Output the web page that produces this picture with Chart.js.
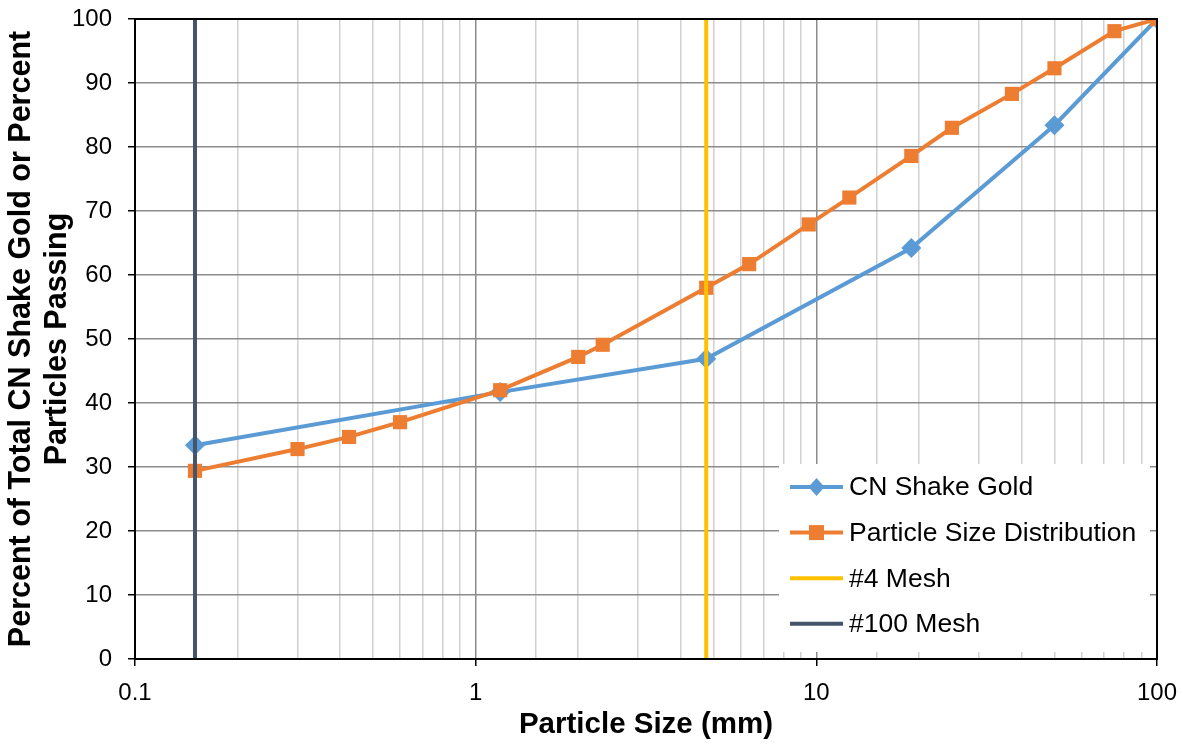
<!DOCTYPE html>
<html>
<head>
<meta charset="utf-8">
<script src="https://cdn.jsdelivr.net/npm/chart.js@4"></script>
<style>
html,body{margin:0;padding:0;background:#fff;}
#wrap{width:1183px;height:745px;position:relative;}
</style>
</head>
<body>
<div id="wrap"><canvas id="c"></canvas></div>
<script>
// ---- data ----
const cnSize = [0.15, 1.18, 4.75, 19, 50, 100];
const cnPct = [33.4, 41.7, 46.9, 64.2, 83.4, 100];
const psdSize = [0.15, 0.3, 0.425, 0.6, 1.18, 2.0, 2.36, 4.75, 6.35, 9.5, 12.5, 19, 25, 37.5, 50, 75, 100];
const psdPct = [29.4, 32.8, 34.7, 37.0, 42.0, 47.2, 49.1, 58.0, 61.7, 67.9, 72.1, 78.6, 83.0, 88.3, 92.3, 98.1, 100];
const mesh4Size = [4.75, 4.75];
const mesh100Size = [0.15, 0.15];
const meshPct = [0, 100];
const seriesNames = ['CN Shake Gold', 'Particle Size Distribution', '#4 Mesh', '#100 Mesh'];
const xTickLabels = ['0.1', '1', '10', '100'];
const yTicks = [0, 10, 20, 30, 40, 50, 60, 70, 80, 90, 100];
const xTitle = 'Particle Size (mm)';
const yTitle = ['Percent of Total CN Shake Gold or Percent', 'Particles Passing'];

const pts = (xs, ys) => xs.map((x, i) => ({x: x, y: ys[i]}));
const FONT = "'Liberation Sans', Arial, sans-serif";
const isMajor = v => Math.abs(Math.log10(v) - Math.round(Math.log10(v))) < 1e-6;

const legendPlugin = {
  id: 'customLegend',
  afterDraw(chart) {
    const ctx = chart.ctx;
    ctx.save();
    ctx.fillStyle = '#fff';
    ctx.fillRect(779, 464, 371, 188);
    chart.data.datasets.forEach((ds, i) => {
      const y = 487 + i * 45.6;
      ctx.strokeStyle = ds.borderColor;
      ctx.lineWidth = 4;
      ctx.beginPath();
      ctx.moveTo(790, y); ctx.lineTo(843, y);
      ctx.stroke();
      ctx.fillStyle = ds.backgroundColor;
      if (ds.pointStyle === 'rectRot') {
        ctx.beginPath();
        ctx.moveTo(816.5, y - 9); ctx.lineTo(824.5, y); ctx.lineTo(816.5, y + 9); ctx.lineTo(808.5, y);
        ctx.closePath(); ctx.fill();
      } else if (ds.pointStyle === 'rect') {
        ctx.fillRect(809, y - 7.5, 15, 15);
      }
      ctx.fillStyle = '#000';
      ctx.font = '26.5px ' + FONT;
      ctx.textBaseline = 'middle';
      ctx.textAlign = 'left';
      ctx.fillText(ds.label, 849, y + 1);
    });
    ctx.restore();
  }
};

const framePlugin = {
  id: 'frame',
  afterDatasetsDraw(chart) {
    const a = chart.chartArea, ctx = chart.ctx;
    ctx.save();
    ctx.strokeStyle = '#000';
    ctx.lineWidth = 2;
    ctx.strokeRect(a.left, a.top, a.right - a.left, a.bottom - a.top);
    ctx.restore();
  }
};

new Chart(document.getElementById('c'), {
  type: 'line',
  data: {
    datasets: [
      {label: seriesNames[0], data: pts(cnSize, cnPct), borderColor: '#5B9BD5', backgroundColor: '#5B9BD5',
       borderWidth: 4, pointStyle: 'rectRot', pointRadius: 10, pointBorderWidth: 0, order: 3},
      {label: seriesNames[1], data: pts(psdSize, psdPct), borderColor: '#ED7D31', backgroundColor: '#ED7D31',
       borderWidth: 4, pointStyle: 'rect', pointRadius: 10, pointBorderWidth: 0, order: 2},
      {label: seriesNames[2], data: pts(mesh4Size, meshPct), borderColor: '#FFC000', backgroundColor: '#FFC000',
       borderWidth: 4, pointStyle: false, pointRadius: 0, order: 1},
      {label: seriesNames[3], data: pts(mesh100Size, meshPct), borderColor: '#44546A', backgroundColor: '#44546A',
       borderWidth: 4, pointStyle: false, pointRadius: 0, order: 0}
    ]
  },
  options: {
    responsive: true,
    maintainAspectRatio: false,
    animation: false,
    layout: {padding: {left: 0, right: 26, top: 19, bottom: 0}},
    plugins: {legend: {display: false}, tooltip: {enabled: false}},
    elements: {line: {tension: 0}},
    scales: {
      x: {
        type: 'logarithmic', min: 0.1, max: 100,
        afterFit: s => { s.height = 86; s.paddingLeft = 0; s.paddingRight = 0; },
        ticks: {
          autoSkip: false, maxRotation: 0, minRotation: 0, padding: 13,
          color: '#000', font: {family: FONT, size: 24},
          callback: v => isMajor(v) ? xTickLabels[Math.round(Math.log10(v)) + 1] : ''
        },
        grid: {
          color: c => (c.tick && isMajor(c.tick.value)) ? '#8c8c8c' : '#d0d0d0',
          lineWidth: 1.5,
          tickLength: 7,
          tickColor: c => (c.tick && isMajor(c.tick.value)) ? '#000' : 'rgba(0,0,0,0)'
        },
        border: {display: true, color: '#000', width: 2},
        title: {display: true, text: xTitle, color: '#000', font: {family: FONT, size: 29.5, weight: 'bold'},
                padding: {top: 0, bottom: 2}}
      },
      y: {
        min: 0, max: 100,
        afterFit: s => { s.width = 135; s.paddingTop = 0; s.paddingBottom = 0; },
        afterBuildTicks: s => { s.ticks = yTicks.map(v => ({value: v})); },
        ticks: {color: '#000', font: {family: FONT, size: 24}, padding: 16},
        grid: {color: '#8c8c8c', lineWidth: 1.5, tickLength: 7, tickColor: '#000'},
        border: {display: true, color: '#000', width: 2},
        title: {display: true, text: yTitle, color: '#000', font: {family: FONT, size: 30.5, weight: 'bold', lineHeight: 1.18},
                padding: {top: 4, bottom: 0}}
      }
    }
  },
  plugins: [framePlugin, legendPlugin]
});
</script>
</body>
</html>
